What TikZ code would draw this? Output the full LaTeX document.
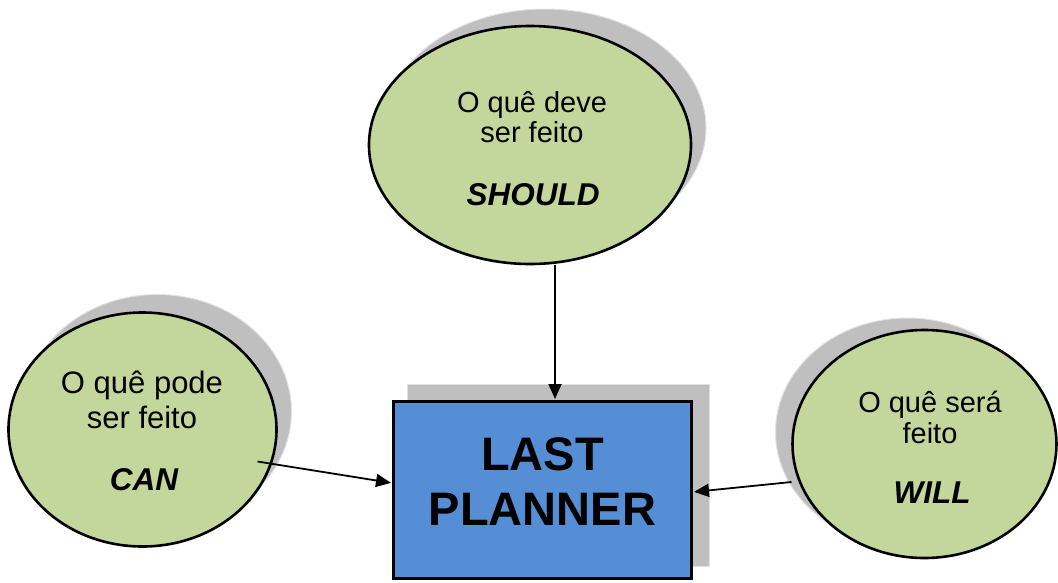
\documentclass[tikz,border=0pt]{standalone}
\usepackage{fontspec}
\setmainfont{Liberation Sans}
\usetikzlibrary{arrows.meta,shapes.geometric,calc}
\definecolor{leaf}{HTML}{C3D69B}
\definecolor{sky}{HTML}{558ED5}
\definecolor{shade}{HTML}{BFBFBF}
\definecolor{shadeedge}{HTML}{E2E2E2}
\begin{document}
\begin{tikzpicture}[x=1pt,y=-1pt,
  bubble/.style={ellipse, draw=black, line width=2.6pt, fill=leaf, inner sep=0pt},
  bubbleshade/.style={ellipse, draw=shadeedge, line width=1pt, fill=shade, inner sep=0pt},
  core/.style={rectangle, draw=black, line width=3pt, fill=sky, inner sep=0pt,
    minimum width=298pt, minimum height=177pt},
  coreshade/.style={rectangle, draw=shadeedge, line width=1pt, fill=shade, inner sep=0pt,
    minimum width=302pt, minimum height=182pt},
  txt/.style={inner sep=0pt, anchor=base, text=black},
  plain/.style={txt, font=\fontsize{29}{29}\selectfont},
  plainbig/.style={txt, font=\fontsize{31}{31}\selectfont},
  key/.style={txt, font=\fontsize{31.5}{31.5}\selectfont\bfseries\itshape},
  title/.style={txt, font=\fontsize{47}{47}\selectfont\bfseries},
  arr/.style={line width=1.8pt, -{Triangle[length=15pt,width=13pt]}, shorten >=1pt}]
\useasboundingbox (0,0) rectangle (1058,582);

% shadows
\node[bubbleshade, minimum width=322pt, minimum height=238pt] (shouldshade) at (545,128) {};
\node[bubbleshade, minimum width=268pt, minimum height=234pt] (canshade) at (157.5,411.5) {};
\node[bubbleshade, minimum width=264pt, minimum height=228pt] (willshade) at (907.5,432) {};
\node[coreshade] (boxshade) at (558,475.5) {};

% bubbles and central box
\node[bubble, minimum width=322pt, minimum height=238pt] (should) at (530,145) {};
\node[bubble, minimum width=268pt, minimum height=234pt] (can) at (142.5,429.5) {};
\node[bubble, minimum width=264pt, minimum height=228pt] (will) at (924.5,444) {};
\node[core] (box) at (542.5,490) {};

% texts
\node[plain] (should1) at (532,112) {O quê deve};
\node[plain] (should2) at (532,142) {ser feito};
\node[key] (should3) at (533,205) {SHOULD};

\node[plainbig] (can1) at (142,393) {O quê pode};
\node[plainbig] (can2) at (142,428) {ser feito};
\node[key] (can3) at (144,490) {CAN};

\node[plain] (will1) at (930,412) {O quê será};
\node[plain] (will2) at (930,443) {feito};
\node[key] (will3) at (932,503) {WILL};

\node[title] (box1) at (542.5,470) {LAST};
\node[title] (box2) at (542.5,525) {PLANNER};

% connectors
\draw[arr] ([xshift=25pt]should.south) -- ($(box.north)+(12.5,0)$);
\draw[arr] ($(can.center)+(115,32)$) -- ($(box.west)+(0,-7)$);
\draw[arr] ($(will.center)+(-133,38)$) -- ($(box.east)+(0,2)$);
\end{tikzpicture}
\end{document}
